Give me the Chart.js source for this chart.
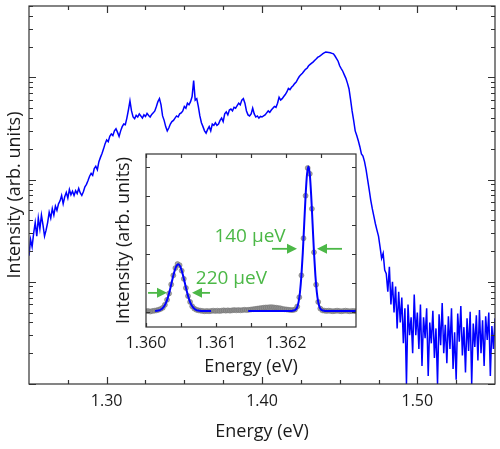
<!DOCTYPE html>
<html>
<head>
<meta charset="utf-8">
<title>PL spectrum</title>
<script src="https://cdn.jsdelivr.net/npm/chart.js"></script>
<style>
  body { margin: 0; background: #fff; }
  #wrap { position: relative; width: 500px; height: 449px; }
  #main { position: absolute; left: 0; top: 0; }
  #inset { position: absolute; left: 105px; top: 148px; }
</style>
</head>
<body>
<div id="wrap">
  <canvas id="main" width="500" height="449"></canvas>
  <canvas id="inset" width="260" height="230"></canvas>
</div>
<script>
// main spectrum, one sample per meV from 1.250 eV
const energyStart = 1.25;
const energyStep = 0.001;
const intensity = [
  18, 26, 22, 30, 38, 28, 42, 33, 45, 36,
  28, 32, 38, 48, 42, 52, 45, 55, 50, 58,
  62, 70, 58, 68, 75, 66, 80, 71, 77, 70,
  78, 73, 82, 74, 70, 76, 85, 90, 98, 108,
  115, 110, 128, 135, 125, 150, 165, 180, 200, 225,
  245, 235, 265, 280, 270, 300, 315, 290, 265, 300,
  330, 350, 345, 400, 480, 590, 470, 410, 395, 425,
  410, 440, 420, 400, 430, 415, 445, 425, 410, 435,
  450, 470, 520, 580, 620, 540, 420, 380, 330, 300,
  320, 350, 370, 380, 400, 420, 410, 440, 450, 470,
  520, 500, 560, 540, 580, 650, 930, 600, 620, 520,
  420, 360, 330, 300, 285, 310, 330, 300, 350, 340,
  360, 340, 350, 380, 400, 370, 440, 460, 430, 480,
  490, 470, 510, 500, 530, 560, 540, 600, 620, 560,
  470, 430, 420, 440, 500, 440, 410, 420, 400, 415,
  410, 420, 430, 450, 470, 455, 480, 500, 520, 510,
  560, 640, 600, 620, 650, 680, 720, 780, 760, 800,
  830, 870, 900, 960, 1020, 1060, 1100, 1150, 1200, 1230,
  1300, 1340, 1380, 1420, 1470, 1520, 1580, 1610, 1650, 1700,
  1740, 1770, 1760, 1750, 1740, 1720, 1700, 1620, 1530, 1440,
  1300, 1220, 1150, 1060, 980, 880, 775, 610, 470, 380,
  300, 270, 240, 210, 178, 170, 150, 125, 100, 80,
  63, 52, 44, 37, 32, 28, 22, 17, 19, 13,
  12, 8, 14, 6, 10, 5, 9, 3.5, 8, 4,
  7, 2.5, 5.5, 1.0, 6, 3, 4.5, 2, 7.5, 3,
  5, 2.2, 6, 1.5, 4.5, 2.8, 5.5, 1.2, 4, 2.5,
  5.2, 1.8, 3.5, 1.0, 4.8, 2.4, 6.2, 2, 3.8, 1.6,
  4.6, 2.2, 5.5, 1.4, 3.2, 1.1, 4.9, 2.6, 5.8, 1.9,
  3.6, 1.3, 4.4, 2.1, 5.1, 1.0, 3.9, 2.3, 4.7, 1.7,
  5.3, 2.0, 4.2, 1.5, 4.6, 2.7, 5.0, 1.2, 3.7, 2.2,
  4.4
];
const mainXLabels = [1.30, 1.40, 1.50];
const mainXMinor = [1.275, 1.325, 1.35, 1.375, 1.425, 1.45, 1.475, 1.525];
const mainYDecades = [1, 10, 100, 1000];
const mainYSub = [2, 3, 4, 5, 6, 7, 8, 9];

// inset: measured points, one every 30 ueV from 1.36000 eV
const insetStart = 1.36;
const insetStep = 0.00003;
const insetData = [
  0.04, 0.05, 0.03, 0.05, 0.06, 0.07, 0.09, 0.12, 0.16, 0.26,
  0.43, 0.65, 0.96, 1.27, 1.52, 1.66, 1.62, 1.43, 1.15, 0.84,
  0.56, 0.36, 0.21, 0.13, 0.09, 0.07, 0.06, 0.05, 0.04, 0.05,
  0.04, 0.05, 0.06, 0.05, 0.06, 0.05, 0.06, 0.07, 0.06, 0.07,
  0.06, 0.07, 0.08, 0.07, 0.08, 0.07, 0.08, 0.09, 0.08, 0.09,
  0.10, 0.11, 0.12, 0.13, 0.14, 0.15, 0.16, 0.17, 0.17, 0.18,
  0.18, 0.17, 0.16, 0.15, 0.14, 0.12, 0.11, 0.10, 0.09, 0.08,
  0.08, 0.10, 0.20, 0.52, 1.27, 2.54, 4.00, 4.95, 4.75, 3.55,
  2.06, 0.95, 0.36, 0.13, 0.07, 0.06, 0.05, 0.06, 0.05, 0.04,
  0.05, 0.06, 0.05, 0.04, 0.05, 0.06, 0.05, 0.04, 0.05, 0.05,
  0.04
];
// fitted curves (blue)
const fit1X = [1.36013, 1.36016, 1.36019, 1.36022, 1.36025, 1.36028, 1.36031, 1.36034,
  1.36037, 1.3604, 1.36043, 1.36046, 1.36049, 1.36052, 1.36055, 1.36058, 1.36061,
  1.36064, 1.36067, 1.3607, 1.36073, 1.36076, 1.36079, 1.36085, 1.36093];
const fit1Y = [0.05, 0.06, 0.07, 0.11, 0.18, 0.30, 0.49, 0.75,
  1.06, 1.35, 1.57, 1.65, 1.57, 1.35, 1.06, 0.75, 0.49,
  0.30, 0.18, 0.11, 0.07, 0.06, 0.05, 0.05, 0.05];
const fit2X = [1.36146, 1.362, 1.36208, 1.3621, 1.36212, 1.36214, 1.36216, 1.36218,
  1.3622, 1.36222, 1.36224, 1.36226, 1.36228, 1.3623, 1.36232, 1.36234, 1.36236,
  1.36238, 1.3624, 1.36242, 1.36244, 1.36246, 1.36248, 1.3625, 1.36252, 1.36254,
  1.36256, 1.363];
const fit2Y = [0.05, 0.05, 0.05, 0.06, 0.07, 0.10, 0.18, 0.36,
  0.70, 1.26, 2.05, 3.03, 4.00, 4.73, 5.00, 4.73, 4.00,
  3.03, 2.05, 1.26, 0.70, 0.36, 0.18, 0.10, 0.07, 0.06,
  0.05, 0.05];
const insetXLabels = [1.360, 1.361, 1.362];
const insetXMinor = [1.3605, 1.3615, 1.3625];
const insetYTicks = [0, 1, 2, 3, 4, 5];

// linewidth labels: [text x, text y] and arrows [tail x, tip x, y]
const widthLabels = [
  { text: '140 µeV', x: 1.361486, y: 2.59 },
  { text: '220 µeV', x: 1.361221, y: 1.15 }
];
const widthArrows = [
  [1.3618, 1.362157, 2.18], [1.3628, 1.362443, 2.18],
  [1.360029, 1.3603, 0.67], [1.360914, 1.360657, 0.67]
];

const FONT = "'Open Sans', 'DejaVu Sans', sans-serif";
const INK = '#1a1a1a';
const GREEN = '#4cb847';

function frameTicks(xMajor, xMinor, yMajor, yMinor, majLen, minLen) {
  return {
    id: 'frameTicks',
    afterDatasetsDraw(chart) {
      const { ctx, chartArea: a, scales: { x, y } } = chart;
      ctx.save();
      ctx.strokeStyle = '#333';
      ctx.lineWidth = 1.2;
      ctx.beginPath();
      const vTick = (v, len) => {
        const p = Math.round(x.getPixelForValue(v)) + 0.5;
        ctx.moveTo(p, a.bottom); ctx.lineTo(p, a.bottom - len);
        ctx.moveTo(p, a.top); ctx.lineTo(p, a.top + len);
      };
      const hTick = (v, len) => {
        const p = Math.round(y.getPixelForValue(v)) + 0.5;
        ctx.moveTo(a.left, p); ctx.lineTo(a.left + len, p);
        ctx.moveTo(a.right, p); ctx.lineTo(a.right - len, p);
      };
      xMajor.forEach(v => vTick(v, majLen));
      xMinor.forEach(v => vTick(v, minLen));
      yMajor.forEach(v => hTick(v, majLen));
      yMinor.forEach(v => hTick(v, minLen));
      ctx.stroke();
      ctx.strokeRect(a.left, a.top, a.width, a.height);
      ctx.restore();
    }
  };
}

const mainYMinor = [];
mainYDecades.forEach(d => mainYSub.forEach(s => { if (d * s <= 5000) mainYMinor.push(d * s); }));

new Chart(document.getElementById('main'), {
  type: 'line',
  data: {
    datasets: [{
      data: intensity.map((v, i) => ({ x: energyStart + i * energyStep, y: v })),
      borderColor: '#0000ff',
      borderWidth: 1.5,
      pointRadius: 0,
      tension: 0
    }]
  },
  options: {
    responsive: false,
    animation: false,
    layout: { padding: { top: 6, right: 5, left: 0, bottom: 0 } },
    plugins: { legend: { display: false }, tooltip: { enabled: false } },
    scales: {
      x: {
        type: 'linear', min: 1.25, max: 1.55,
        grid: { display: false, drawTicks: false },
        border: { display: false },
        afterBuildTicks: s => { s.ticks = mainXLabels.map(v => ({ value: v })); },
        afterFit: s => { s.height = 65; },
        ticks: { padding: 8, color: INK, font: { family: FONT, size: 16 }, maxRotation: 0, autoSkip: false,
                 callback: v => v.toFixed(2) },
        title: { display: true, text: 'Energy (eV)', color: INK, font: { family: FONT, size: 18 },
                 padding: { top: 0, bottom: 6 } }
      },
      y: {
        type: 'logarithmic', min: 1, max: 5000,
        grid: { display: false, drawTicks: false },
        border: { display: false },
        ticks: { display: false },
        afterFit: s => { s.width = 29; },
        title: { display: true, text: 'Intensity (arb. units)', color: INK, font: { family: FONT, size: 18 },
                 padding: { top: 4, bottom: 0 } }
      }
    }
  },
  plugins: [frameTicks(mainXLabels, mainXMinor, mainYDecades, mainYMinor, 7, 4)]
});

const insetBackground = {
  id: 'insetBackground',
  beforeDraw(chart) {
    const { ctx, chartArea: a } = chart;
    ctx.save();
    ctx.fillStyle = '#fff';
    ctx.fillRect(a.left, a.top, a.width, a.height);
    ctx.restore();
  }
};

const widthMarks = {
  id: 'widthMarks',
  afterDatasetsDraw(chart) {
    const { ctx, scales: { x, y } } = chart;
    ctx.save();
    ctx.strokeStyle = GREEN;
    ctx.fillStyle = GREEN;
    ctx.lineWidth = 1.8;
    widthArrows.forEach(([tail, tip, v]) => {
      const x0 = x.getPixelForValue(tail), x1 = x.getPixelForValue(tip), py = y.getPixelForValue(v);
      const dir = Math.sign(x1 - x0);
      ctx.beginPath();
      ctx.moveTo(x0, py); ctx.lineTo(x1 - dir * 8, py);
      ctx.stroke();
      ctx.beginPath();
      ctx.moveTo(x1, py);
      ctx.lineTo(x1 - dir * 10, py - 5);
      ctx.lineTo(x1 - dir * 10, py + 5);
      ctx.closePath();
      ctx.fill();
    });
    ctx.font = '19px ' + FONT;
    ctx.textAlign = 'center';
    ctx.textBaseline = 'middle';
    widthLabels.forEach(l => ctx.fillText(l.text, x.getPixelForValue(l.x), y.getPixelForValue(l.y)));
    ctx.restore();
  }
};

new Chart(document.getElementById('inset'), {
  type: 'line',
  data: {
    datasets: [
      {
        data: fit1X.map((v, i) => ({ x: v, y: fit1Y[i] })),
        borderColor: '#0000ff', borderWidth: 2, pointRadius: 0,
        cubicInterpolationMode: 'monotone', order: 1
      },
      {
        data: fit2X.map((v, i) => ({ x: v, y: fit2Y[i] })),
        borderColor: '#0000ff', borderWidth: 2, pointRadius: 0,
        cubicInterpolationMode: 'monotone', order: 1
      },
      {
        data: insetData.map((v, i) => ({ x: insetStart + i * insetStep, y: v })),
        showLine: false,
        pointRadius: 2.5,
        pointBackgroundColor: 'rgba(140,140,140,0.8)',
        pointBorderColor: 'rgba(110,110,110,0.85)',
        pointBorderWidth: 0.6,
        order: 2
      }
    ]
  },
  options: {
    responsive: false,
    animation: false,
    layout: { padding: { top: 6, right: 9, left: 0, bottom: 0 } },
    plugins: { legend: { display: false }, tooltip: { enabled: false } },
    scales: {
      x: {
        type: 'linear', min: 1.36, max: 1.363,
        grid: { display: false, drawTicks: false },
        border: { display: false },
        afterBuildTicks: s => { s.ticks = insetXLabels.map(v => ({ value: v })); },
        afterFit: s => { s.height = 51; },
        ticks: { padding: 6.4, color: INK, font: { family: FONT, size: 16 }, maxRotation: 0, autoSkip: false,
                 callback: v => v.toFixed(3) },
        title: { display: true, text: 'Energy (eV)', color: INK, font: { family: FONT, size: 18 },
                 padding: { top: 0, bottom: 0.2 } }
      },
      y: {
        type: 'linear', min: -0.5, max: 5.43,
        grid: { display: false, drawTicks: false },
        border: { display: false },
        ticks: { display: false },
        afterFit: s => { s.width = 41; },
        title: { display: true, text: 'Intensity (arb. units)', color: INK, font: { family: FONT, size: 18 },
                 padding: { top: 7.7, bottom: 0 } }
      }
    }
  },
  plugins: [insetBackground, frameTicks(insetXLabels, insetXMinor, insetYTicks, [], 4, 4), widthMarks]
});
</script>
</body>
</html>
